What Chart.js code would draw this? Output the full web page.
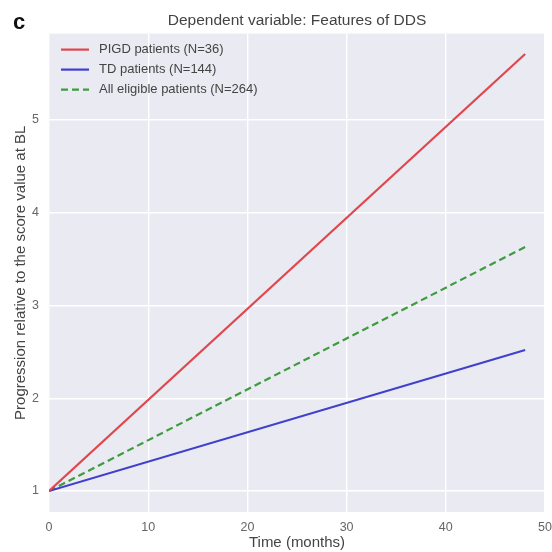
<!DOCTYPE html>
<html>
<head>
<meta charset="utf-8">
<script src="https://cdn.jsdelivr.net/npm/chart.js@4/dist/chart.umd.min.js"></script>
<style>
  body { margin: 0; background: #fff; }
  #wrap { position: relative; width: 552px; height: 552px; }
  #panel { position: absolute; left: 13px; top: 9px; font: bold 22px "Liberation Sans", Arial, sans-serif; color: #111; }
</style>
</head>
<body>
<div id="wrap">
  <canvas id="ddsChart" width="552" height="552"></canvas>
  <div id="panel">c</div>
</div>
<script>
// values
var months = [0, 48];
var pigd = [1, 5.71];     // PIGD patients
var td = [1, 2.52];       // TD patients
var allElig = [1, 3.63];  // all eligible patients
var seriesLabels = ['PIGD patients (N=36)', 'TD patients (N=144)', 'All eligible patients (N=264)'];
var xTicks = [0, 10, 20, 30, 40, 50];
var yTicks = [1, 2, 3, 4, 5];

var pts = function (ys) { return months.map(function (m, i) { return { x: m, y: ys[i] }; }); };

var fontFam = '"Liberation Sans", Arial, sans-serif';

// grey seaborn-style panel behind the grid
var panelBg = {
  id: 'panelBg',
  beforeDraw: function (chart) {
    var a = chart.chartArea, c = chart.ctx;
    c.save();
    c.fillStyle = '#eaeaf2';
    c.fillRect(a.left, a.top, a.right - a.left, a.bottom - a.top);
    c.restore();
  }
};

// legend drawn inside the plot, upper left
var innerLegend = {
  id: 'innerLegend',
  afterDatasetsDraw: function (chart) {
    var a = chart.chartArea, c = chart.ctx;
    c.save();
    c.font = '13px ' + fontFam;
    c.textBaseline = 'middle';
    chart.data.datasets.forEach(function (ds, i) {
      var y = a.top + 16 + i * 20;
      var x0 = a.left + 12;
      c.strokeStyle = ds.borderColor;
      c.lineWidth = ds.borderWidth;
      c.setLineDash(ds.borderDash || []);
      c.beginPath();
      c.moveTo(x0, y);
      c.lineTo(x0 + 28, y);
      c.stroke();
      c.setLineDash([]);
      c.fillStyle = '#444';
      c.fillText(ds.label, x0 + 38, y);
    });
    c.restore();
  }
};

var chart = new Chart(document.getElementById('ddsChart').getContext('2d'), {
  type: 'line',
  data: {
    datasets: [
      { label: seriesLabels[0], data: pts(pigd), borderColor: '#e0464c', borderWidth: 2.2, pointRadius: 0, fill: false },
      { label: seriesLabels[1], data: pts(td), borderColor: '#4040cc', borderWidth: 2.2, pointRadius: 0, fill: false },
      { label: seriesLabels[2], data: pts(allElig), borderColor: '#3e9c3e', borderWidth: 2.2, borderDash: [7, 4], pointRadius: 0, fill: false }
    ]
  },
  options: {
    responsive: false,
    animation: false,
    layout: { padding: { left: 11, right: 7, top: 0, bottom: 0 } },
    plugins: {
      legend: { display: false },
      tooltip: { enabled: false },
      title: {
        display: true,
        fullSize: false,
        text: 'Dependent variable: Features of DDS',
        color: '#444',
        font: { family: fontFam, size: 15.5, weight: 'normal' },
        padding: { top: 11, bottom: 4 }
      }
    },
    scales: {
      x: {
        type: 'linear',
        min: 0,
        max: 50,
        afterBuildTicks: function (s) { s.ticks = xTicks.map(function (v) { return { value: v }; }); },
        afterFit: function (s) { s.paddingRight = 0; s.height = 40; },
        grid: { color: '#ffffff', lineWidth: 1.4, drawTicks: false },
        border: { display: false },
        ticks: { color: '#666', font: { family: fontFam, size: 12.5 }, padding: 8 },
        title: { display: true, text: 'Time (months)', color: '#444', font: { family: fontFam, size: 15 }, padding: { top: 0, bottom: 0 } }
      },
      y: {
        type: 'linear',
        min: 0.774,
        max: 5.93,
        afterBuildTicks: function (s) { s.ticks = yTicks.map(function (v) { return { value: v }; }); },
        afterFit: function (s) { s.width = 38; },
        grid: { color: '#ffffff', lineWidth: 1.4, drawTicks: false },
        border: { display: false },
        ticks: { color: '#666', font: { family: fontFam, size: 12.5 }, padding: 10 },
        title: { display: true, text: 'Progression relative to the score value at BL', color: '#444', font: { family: fontFam, size: 15 }, padding: { top: 1, bottom: 1 } }
      }
    }
  },
  plugins: [panelBg, innerLegend]
});
</script>
</body>
</html>
